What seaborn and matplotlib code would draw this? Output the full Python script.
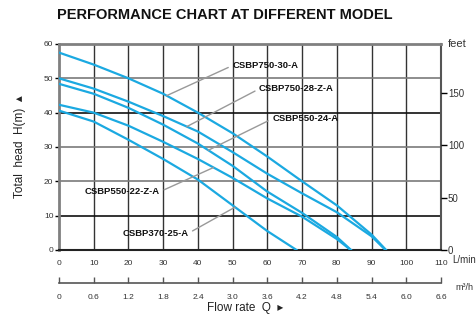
import numpy as np
import pandas as pd
import matplotlib
matplotlib.use("Agg")
import matplotlib.pyplot as plt
import seaborn as sns

# pump curves: flow (L/min) -> head (m)
models = ["CSBP750-30-A", "CSBP750-28-Z-A", "CSBP550-24-A", "CSBP550-22-Z-A", "CSBP370-25-A"]
flow_a = [0, 10, 20, 30, 40, 50, 60, 70, 80, 90, 94.2]
head_a = [57.5, 54, 50, 45.5, 40, 34, 27.2, 20, 13, 4.5, 0]
flow_b = [0, 10, 20, 30, 40, 50, 60, 70, 80, 90, 94]
head_b = [50, 47, 43.2, 39, 34.5, 28.5, 22.2, 16.5, 11, 4, 0]
flow_c = [0, 10, 20, 30, 40, 50, 60, 70, 80, 84.1]
head_c = [48.4, 45.5, 41.4, 36.5, 31, 24.5, 17, 10.8, 3.8, 0]
flow_d = [0, 10, 20, 30, 40, 50, 60, 70, 80, 84]
head_d = [42.3, 40, 36.2, 31.5, 26.5, 21, 15, 9.7, 3.2, 0]
flow_e = [0, 10, 20, 30, 40, 50, 60, 68.4]
head_e = [40.6, 37.4, 32.1, 26.5, 20.5, 13, 5.5, 0]

x_ticks = list(range(0, 111, 10))
y_ticks = list(range(0, 61, 10))
feet_ticks = [0, 50, 100, 150]
m3h_labels = ["0", "0.6", "1.2", "1.8", "2.4", "3.0", "3.6", "4.2", "4.8", "5.4", "6.0", "6.6"]

flows = [flow_a, flow_b, flow_c, flow_d, flow_e]
heads = [head_a, head_b, head_c, head_d, head_e]
df = pd.concat([pd.DataFrame({"flow": f, "head": h, "model": m})
                for f, h, m in zip(flows, heads, models)], ignore_index=True)

plt.rcParams["font.family"] = ["Liberation Sans", "DejaVu Sans"]

blue = "#1ba9e1"
fig = plt.figure(figsize=(4.77, 3.17), dpi=100)
ax = fig.add_axes([0.1237, 0.2114, 0.8008, 0.6498])

# grid first so curves sit on top
for v in x_ticks[1:-1]:
    ax.axvline(v, color="#333333", lw=1.0, zorder=1)
for v in y_ticks[1:-1]:
    col = "#7a7a7a" if v in (20, 30, 50) else "#111111"
    ax.axhline(v, color=col, lw=1.2, zorder=1)

sns.lineplot(data=df, x="flow", y="head", hue="model", palette=[blue] * 5,
             legend=False, sort=False, lw=1.6, ax=ax, zorder=3)

ax.set_xlim(0, 110)
ax.set_ylim(0, 60)
ax.set_xticks(x_ticks)
ax.set_yticks(y_ticks)
ax.tick_params(axis="x", length=0, pad=7, labelsize=6, labelcolor="#333333")
ax.tick_params(axis="y", length=3, width=1, pad=1, labelsize=6, labelcolor="#333333")
ax.set_xlabel("")
ax.set_ylabel("Total  head  H(m)  \u25b4", fontsize=8.5, color="#222222", labelpad=13)

for side, col, w in [("left", "#808080", 2), ("top", "#808080", 2),
                     ("right", "#555555", 1.5), ("bottom", "#222222", 1.5)]:
    ax.spines[side].set_color(col)
    ax.spines[side].set_linewidth(w)

# feet axis on the right
ax2 = ax.twinx()
ax2.set_ylim(0, 60 * 3.2808)
ax2.set_yticks(feet_ticks)
ax2.tick_params(axis="y", length=4, width=1, pad=1, labelsize=7, labelcolor="#333333")
for s in ax2.spines.values():
    s.set_visible(False)

# m3/h scale below
sec = ax.secondary_xaxis(-0.16)
sec.set_xticks(x_ticks)
sec.set_xticklabels(m3h_labels)
sec.tick_params(axis="x", direction="in", length=4, width=1, pad=8,
                labelsize=6, labelcolor="#333333", color="#555555")
sec.spines["bottom"].set_color("#555555")
sec.spines["bottom"].set_linewidth(1.2)

# model labels with leader lines
label_pos = [(49.9, 53.7, 31.0, "left"), (57.6, 46.9, 36.8, "left"), (61.4, 38.2, 43.0, "left"),
             (29.1, 17.0, 44.5, "right"), (37.3, 4.9, 50.7, "right")]
for (tx, ty, fx, ha), f, h, m in zip(label_pos, flows, heads, models):
    fy = np.interp(fx, f, h)
    ax.annotate(m, xy=(fx, fy), xytext=(tx, ty), ha=ha, va="center",
                fontsize=6.8, fontweight="bold", color="#111111", zorder=4,
                arrowprops=dict(arrowstyle="-", color="#999999", lw=1,
                                shrinkA=1, shrinkB=0,
                                relpos=(0, 0.5) if ha == "left" else (1, 0.5)))

fig.text(225 / 477, 0.953, "PERFORMANCE CHART AT DIFFERENT MODEL", ha="center", va="center",
         fontsize=10.5, fontweight="bold", color="#111111")
fig.text(448 / 477, 1 - 44 / 317, "feet", ha="left", va="center", fontsize=8, color="#333333")
fig.text(452 / 477, 1 - 260 / 317, "L/min", ha="left", va="center", fontsize=7, color="#333333")
fig.text(455 / 477, 1 - 288 / 317, "m\u00b3/h", ha="left", va="center", fontsize=6.5, color="#333333")
fig.text(245 / 477, 1 - 308 / 317, "Flow rate  Q  \u25b8", ha="center", va="center",
         fontsize=8.5, color="#222222")

fig.savefig("out.png", dpi=100)
